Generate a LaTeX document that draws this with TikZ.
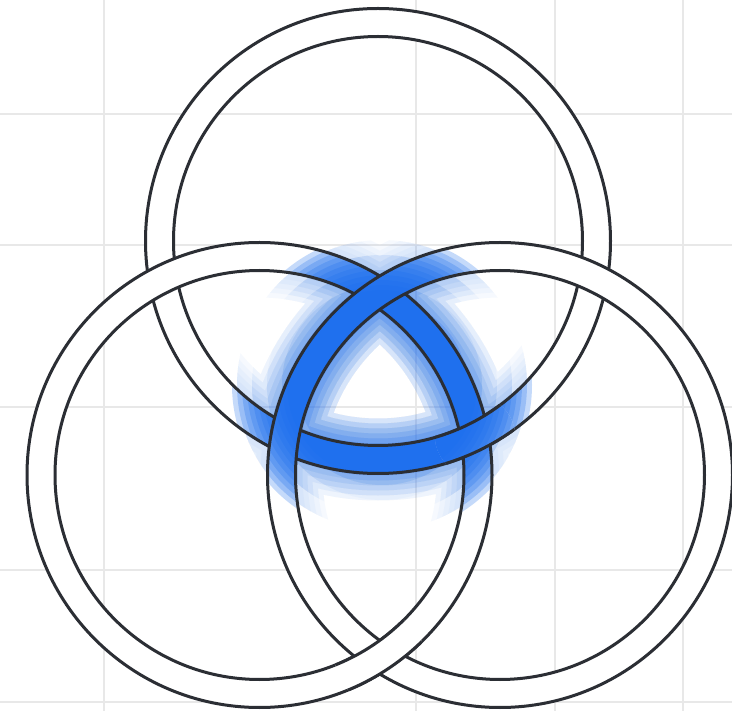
\documentclass[tikz,border=0pt]{standalone}
\usepackage{tikz}
\definecolor{ringline}{HTML}{2B2E34}
\definecolor{glowblue}{HTML}{1A6EEE}
\definecolor{gridgray}{HTML}{E8E8E8}
\tikzset{
  ringedge/.style={draw=ringline,line width=3pt},
  gridline/.style={draw=gridgray,line width=1.5pt},
  halo/.style={draw=glowblue,opacity=0.035},
  bandtint/.style={fill=glowblue,opacity=0.25}
}
% one ring: band fill (white, blue near the middle) and its two edges
\newcommand{\ringband}[1]{%
  \begin{scope}[even odd rule]
    \clip (#1) circle (232.5pt) (#1) circle (204.5pt);
    \fill[white] (#1) circle (240pt);
    \foreach \br in {95,100,...,150}
      \path[bandtint] (glowC) circle (\br pt);
  \end{scope}
  \draw[ringedge] (#1) circle (232.5pt) (#1) circle (204.5pt);
}

\begin{document}
\begin{tikzpicture}[x=1pt,y=-1pt]
\useasboundingbox (0,0) rectangle (732,711);
\fill[white] (0,0) rectangle (732,711);
\coordinate (ringT) at (378,241);
\coordinate (ringL) at (259.5,475);
\coordinate (ringR) at (500,475);
\coordinate (glowC) at (382,385);
\coordinate (fixA) at (475,436);
\coordinate (fixB) at (380,658);
% grid
\foreach \gx in {104,416,555,683}
  \draw[gridline] (\gx,0) -- (\gx,711);
\foreach \gy in {114,245,407,570,702}
  \draw[gridline] (0,\gy) -- (732,\gy);
% glow round the middle
\foreach \gr in {85,100,...,145} {
  \begin{scope}
    \clip (glowC) circle (\gr pt);
    \foreach \gw in {32,42,...,82}
      \draw[halo,line width=\gw pt] (ringT) circle (218.5pt) (ringL) circle (218.5pt) (ringR) circle (218.5pt);
  \end{scope}
}
% rings
\ringband{ringT}
\ringband{ringL}
\ringband{ringR}
% crossings where the order is the other way
\begin{scope}
  \clip (fixA) circle (40pt);
  \ringband{ringT}
\end{scope}
\begin{scope}
  \clip (fixB) circle (45pt);
  \ringband{ringL}
\end{scope}
\end{tikzpicture}
\end{document}
